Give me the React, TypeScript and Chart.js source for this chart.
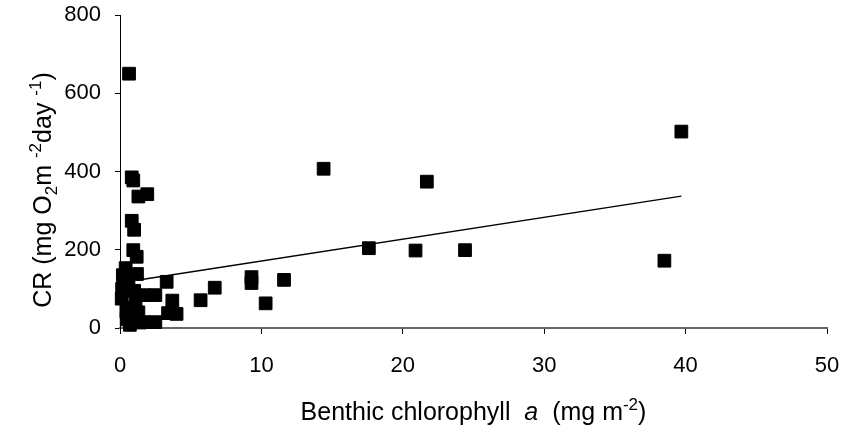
import React, { useEffect, useRef } from "react";
import { Chart, registerables } from "chart.js";

Chart.register(...registerables);

// Benthic chlorophyll a (mg m-2)
const chlA = [
  0.64, 0.83, 0.94, 1.3, 1.93, 0.83, 1.0, 0.94, 1.18, 0.4, 0.35, 1.2, 3.3,
  14.4, 21.7, 17.6, 20.9, 24.4, 38.5, 39.7, 6.7, 5.7, 9.3, 9.3, 11.6, 10.3,
  3.7, 3.4, 4.0,
  0.15, 0.6, 1.0, 0.12, 1.1, 1.7, 2.5, 0.45, 0.9, 1.3, 0.47, 1.0, 1.4, 1.7,
  2.5, 0.7, 0.2,
];
// CR (mg O2 m-2 day-1)
const cr = [
  650, 385, 377, 336, 342, 274, 251, 199, 182, 153, 131, 138, 118,
  407, 374, 204, 198, 199, 172, 502, 103, 71, 130, 115, 123, 63,
  70, 38, 36,
  100, 108, 95, 75, 68, 84, 84, 42, 52, 40, 22, 20, 14, 15,
  15, 8, 135,
];
// trend line end points
const trendX = [1.2, 39.7];
const trendY = [122, 337];

const xMin = 0, xMax = 50, xStep = 10;
const yMin = 0, yMax = 800, yStep = 200;

const FONT = "'Liberation Sans', Arial, sans-serif";

type Seg = { t: string; kind?: "sub" | "sup"; italic?: boolean };
const xTitle: Seg[] = [
  { t: "Benthic chlorophyll  " },
  { t: "a", italic: true },
  { t: "  (mg m" },
  { t: "-2", kind: "sup" },
  { t: ")" },
];
const yTitle: Seg[] = [
  { t: "CR (mg O" },
  { t: "2", kind: "sub" },
  { t: "m " },
  { t: "-2", kind: "sup" },
  { t: "day " },
  { t: "-1", kind: "sup" },
  { t: ")" },
];

function drawRich(ctx: CanvasRenderingContext2D, segs: Seg[], cx: number, cy: number, rot: number, size: number) {
  const fontFor = (s: Seg) => {
    const sz = s.kind ? Math.round(size * 0.66) : size;
    return `${s.italic ? "italic " : ""}${sz}px ${FONT}`;
  };
  ctx.save();
  let total = 0;
  const widths = segs.map((s) => {
    ctx.font = fontFor(s);
    const w = ctx.measureText(s.t).width;
    total += w;
    return w;
  });
  ctx.translate(cx, cy);
  ctx.rotate(rot);
  ctx.fillStyle = "#000";
  ctx.textBaseline = "alphabetic";
  ctx.textAlign = "left";
  let x = -total / 2;
  const base = size * 0.36;
  segs.forEach((s, i) => {
    ctx.font = fontFor(s);
    let dy = 0;
    if (s.kind === "sub") dy = size * 0.22;
    if (s.kind === "sup") dy = -size * 0.42;
    ctx.fillText(s.t, x, base + dy);
    x += widths[i];
  });
  ctx.restore();
}

const richTitles = {
  id: "richTitles",
  afterDraw(chart: any) {
    const ctx = chart.ctx as CanvasRenderingContext2D;
    const a = chart.chartArea;
    drawRich(ctx, xTitle, (a.left + a.right) / 2, 411, 0, 25);
    drawRich(ctx, yTitle, 42, 190, -Math.PI / 2, 25);
  },
};

export default function App() {
  const ref = useRef<HTMLCanvasElement | null>(null);
  useEffect(() => {
    if (!ref.current) return;
    const points = chlA.map((x, i) => ({ x, y: cr[i] }));
    const trend = trendX.map((x, i) => ({ x, y: trendY[i] }));
    const chart = new Chart(ref.current, {
      type: "scatter",
      data: {
        datasets: [
          {
            type: "line",
            data: trend,
            borderColor: "#000",
            borderWidth: 1.4,
            pointRadius: 0,
            fill: false,
            order: 2,
          } as any,
          {
            data: points,
            pointStyle: "rect",
            pointRadius: 9,
            pointBorderWidth: 1,
            backgroundColor: "#000",
            borderColor: "#000",
            clip: false,
            order: 1,
          } as any,
        ],
      },
      options: {
        responsive: false,
        animation: false,
        layout: { padding: { top: 15, right: 18, left: 0, bottom: 0 } },
        plugins: { legend: { display: false }, tooltip: { enabled: false } },
        scales: {
          x: {
            type: "linear",
            min: xMin,
            max: xMax,
            z: 1,
            ticks: { stepSize: xStep, color: "#000", font: { family: FONT, size: 22 }, padding: 19, maxRotation: 0 },
            grid: { drawOnChartArea: false, drawTicks: true, tickLength: 6, color: "#000", lineWidth: 1 },
            border: { display: true, color: "#666", width: 2 },
            afterFit: (s: any) => { s.height = 101; s.paddingLeft = 0; s.paddingRight = 0; },
          },
          y: {
            type: "linear",
            min: yMin,
            max: yMax,
            ticks: { stepSize: yStep, color: "#000", font: { family: FONT, size: 22 }, padding: 14 },
            grid: { drawOnChartArea: false, drawTicks: true, tickLength: 5, color: "#000", lineWidth: 1 },
            border: { display: true, color: "#000", width: 1 },
            afterFit: (s: any) => { s.width = 120; s.paddingTop = 0; s.paddingBottom = 0; },
          },
        },
      },
      plugins: [richTitles],
    });
    return () => chart.destroy();
  }, []);
  return (
    <div style={{ position: "fixed", left: 0, top: 0, width: 845, height: 429, background: "#fff" }}>
      <canvas ref={ref} width={845} height={429} />
    </div>
  );
}
